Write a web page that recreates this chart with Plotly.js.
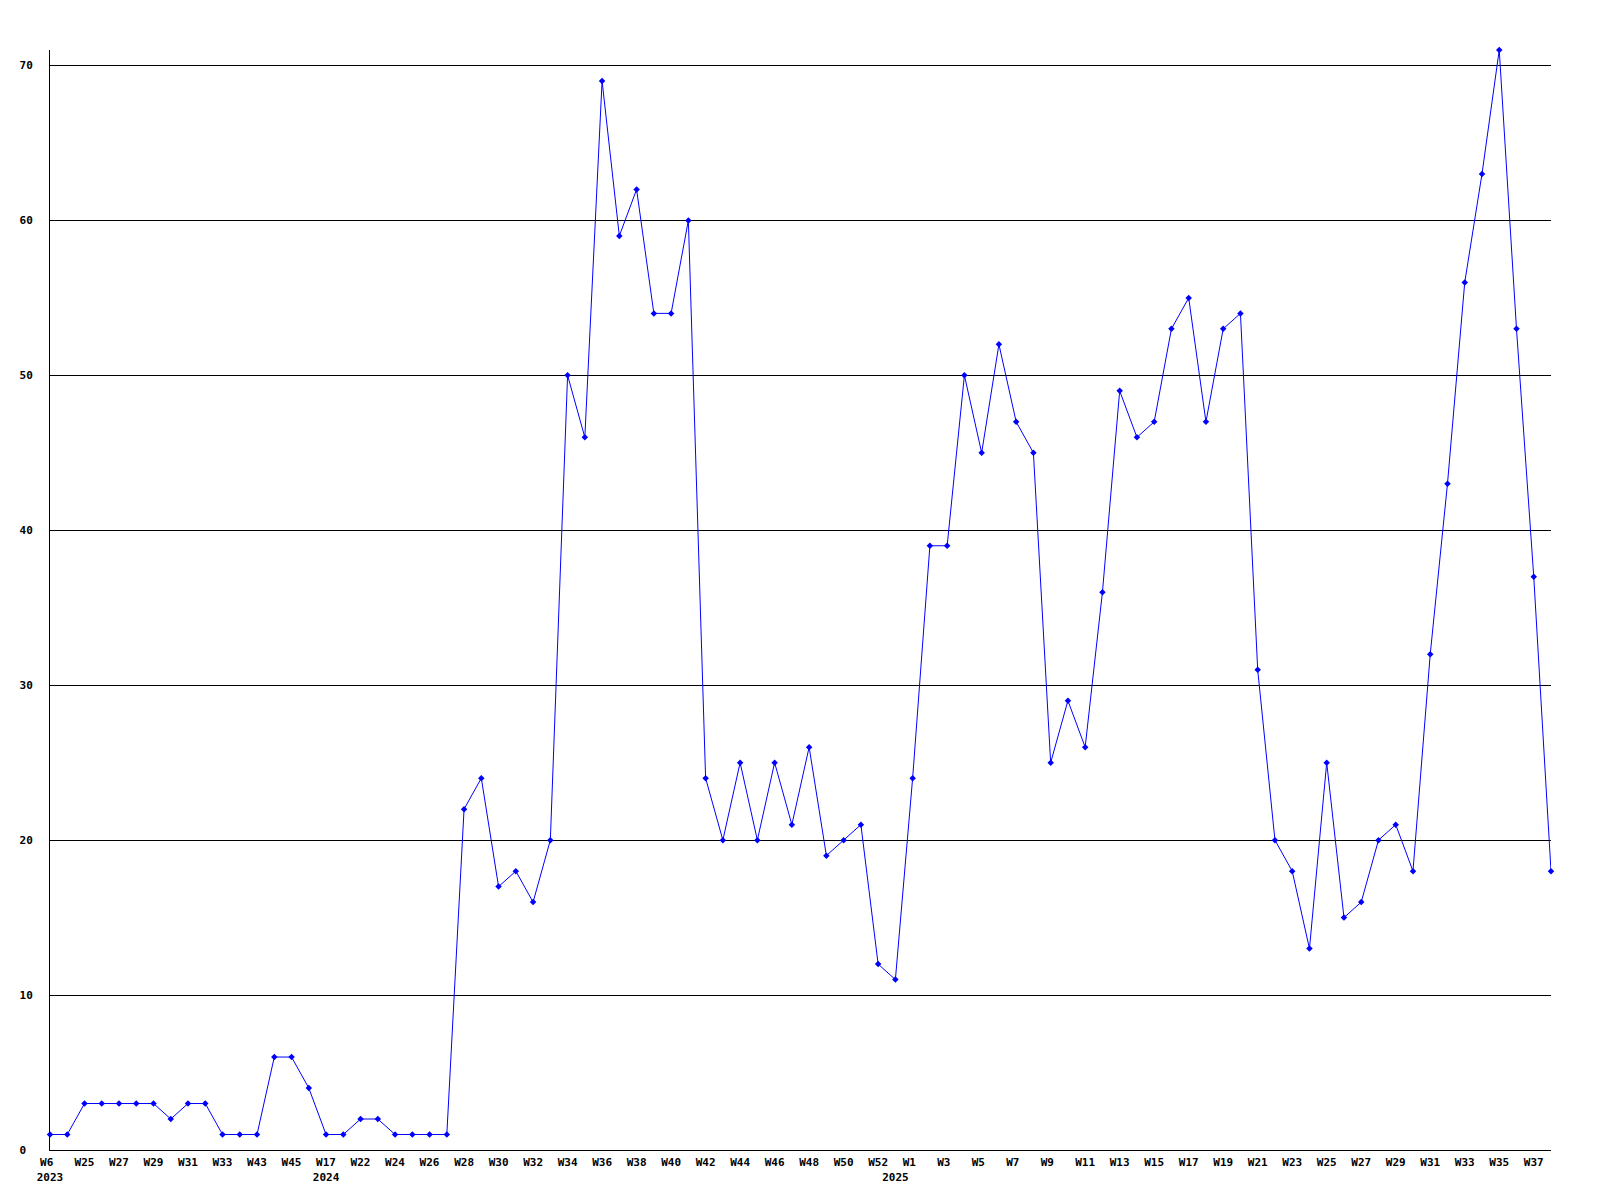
<!DOCTYPE html>
<html>
<head>
<meta charset="utf-8">
<script src="https://cdn.plot.ly/plotly-3.0.1.min.js"></script>
<style>
  html, body { margin: 0; padding: 0; background: #ffffff; }
  #chart { width: 1600px; height: 1200px; }
</style>
</head>
<body>
<div id="chart"></div>
<script>
// Weekly values, one per point (88 points)
const values = [
  1, 1, 3, 3, 3, 3, 3, 2, 3, 3,
  1, 1, 1, 6, 6, 4, 1, 1, 2, 2,
  1, 1, 1, 1, 22, 24, 17, 18, 16, 20,
  50, 46, 69, 59, 62, 54, 54, 60, 24, 20,
  25, 20, 25, 21, 26, 19, 20, 21, 12, 11,
  24, 39, 39, 50, 45, 52, 47, 45, 25, 29,
  26, 36, 49, 46, 47, 53, 55, 47, 53, 54,
  31, 20, 18, 13, 25, 15, 16, 20, 21, 18,
  32, 43, 56, 63, 71, 53, 37, 18
];

// Week labels shown on every second point
const weekTicks = [
  "W6", "W25", "W27", "W29", "W31", "W33", "W43", "W45", "W17", "W22",
  "W24", "W26", "W28", "W30", "W32", "W34", "W36", "W38", "W40", "W42",
  "W44", "W46", "W48", "W50", "W52", "W1", "W3", "W5", "W7", "W9",
  "W11", "W13", "W15", "W17", "W19", "W21", "W23", "W25", "W27", "W29",
  "W31", "W33", "W35", "W37"
];
// Year labels and the point they sit under
const yearPoints = [0, 16, 49];
const yearNames = ["2023", "2024", "2025"];

const yTickVals = [0, 10, 20, 30, 40, 50, 60, 70];

const NB = "\u00a0";
const xIdx = values.map((_, i) => i);

const tickMap = {};
weekTicks.forEach((w, i) => { tickMap[i * 2] = w.length < 3 ? w + NB : w; });
yearPoints.forEach((p, k) => {
  tickMap[p] = (tickMap[p] !== undefined ? tickMap[p] : NB) + "<br>" + yearNames[k];
});
const tickvals = Object.keys(tickMap).map(Number).sort((a, b) => a - b);
const ticktext = tickvals.map(v => tickMap[v]);

const yTickText = yTickVals.map(v => {
  let s = String(v);
  while (s.length < 2) s += NB;
  return s;
});

const font = { family: "DejaVu Sans Mono, monospace", size: 11, color: "#000000", weight: "bold" };

const trace = {
  x: xIdx,
  y: values,
  type: "scatter",
  mode: "lines+markers",
  line: { color: "#0000ff", width: 1 },
  marker: { color: "#0000ff", size: 5, symbol: "diamond" },
  hoverinfo: "y",
  cliponaxis: false
};

const layout = {
  width: 1600,
  height: 1200,
  paper_bgcolor: "#ffffff",
  plot_bgcolor: "#ffffff",
  showlegend: false,
  margin: { l: 50, r: 49, t: 50, b: 50, pad: 0 },
  font: font,
  xaxis: {
    range: [0, values.length - 1],
    tickmode: "array",
    tickvals: tickvals,
    ticktext: ticktext,
    showgrid: false,
    zeroline: false,
    showline: true,
    linecolor: "#000000",
    linewidth: 1,
    ticks: "",
    tickangle: 0,
    tickfont: font,
    ticklabelstandoff: 2
  },
  yaxis: {
    range: [0, 71],
    tickmode: "array",
    tickvals: yTickVals,
    ticktext: yTickText,
    showgrid: true,
    gridcolor: "#000000",
    gridwidth: 1,
    zeroline: false,
    showline: true,
    linecolor: "#000000",
    linewidth: 1,
    ticks: "",
    tickfont: font,
    ticklabelstandoff: 14
  }
};

Plotly.newPlot("chart", [trace], layout, { staticPlot: true, displayModeBar: false });
</script>
</body>
</html>
